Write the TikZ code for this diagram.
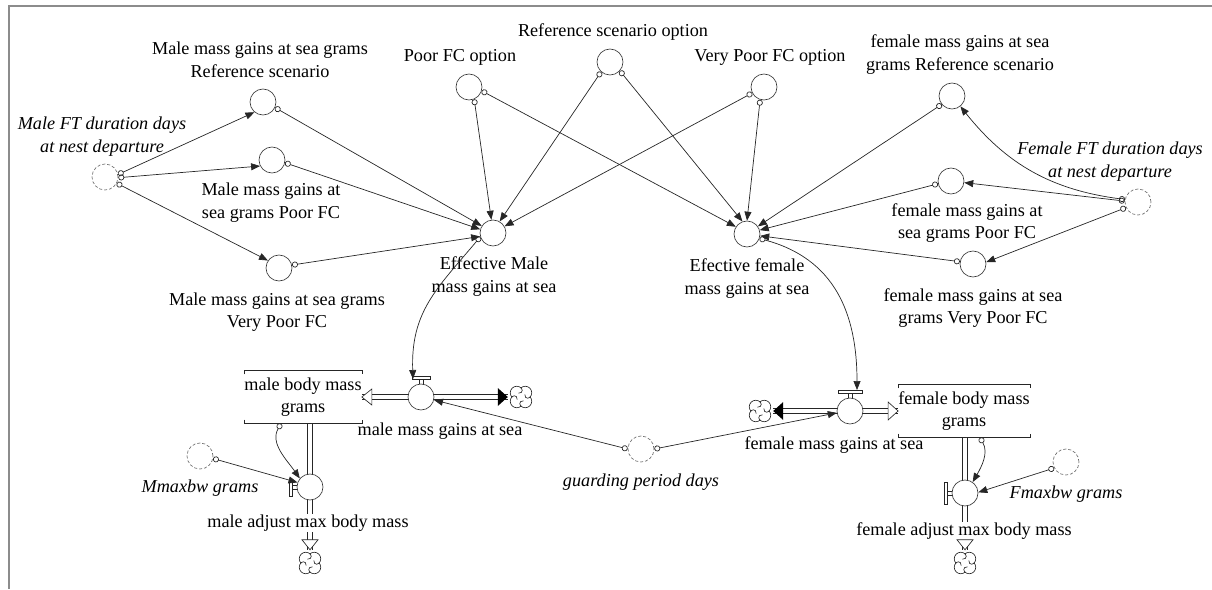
\documentclass[tikz,border=0pt]{standalone}
\usepackage{fontspec}
\setmainfont{Liberation Serif}
\usetikzlibrary{arrows.meta,calc}
\tikzset{
  cloudpic/.pic={
    \foreach \a in {0,90,180,270}{
      \draw[draw=black!85,line width=0.65pt] (\a+45:6) ++(\a-45:6.5) arc[start angle=\a-45,end angle=\a+135,radius=6.5];
      \draw[draw=black!85,line width=0.65pt] (\a+45:6) ++(\a-45:6.5) arc[start angle=\a-45,end angle=\a-195,radius=3];
    }
  }
}
\begin{document}
\begin{tikzpicture}[x=1pt,y=1pt,
  aux/.style={circle,draw=black!80,line width=0.65pt,minimum size=26pt,inner sep=0pt},
  shadow/.style={aux,draw=black!60,dash pattern=on 3pt off 2pt},
  valve/.style={aux,fill=white},
  lbl/.style={align=center,inner sep=0pt,font=\fontsize{18.2}{22.5}\selectfont,text=black},
  ilbl/.style={align=center,inner sep=0pt,font=\fontsize{18.2}{22.5}\selectfont\itshape,text=black},
  wlbl/.style={lbl,fill=white,inner sep=1pt},
  conn/.style={draw=black!85,line width=0.7pt,{Circle[open,length=6pt,width=6pt]}-{Triangle[length=9pt,width=7pt]}},
  pipe/.style={draw=black!85,line width=0.65pt,double=white,double distance=4pt},
  stockbox/.style={minimum width=68pt,minimum height=53pt,inner sep=0pt,align=center,font=\fontsize{18.2}{22.5}\selectfont},
  bracket/.style={draw=black!85,line width=0.65pt},
  cloudn/.style={circle,minimum size=26pt,inner sep=0pt},
  handle/.style={draw=black!85,line width=0.65pt,fill=white},
  frame/.style={draw=black!45,line width=1.6pt}
]
\useasboundingbox (0,0) rectangle (1212,-589);
\draw[frame] (1212,-6) -- (9,-6) -- (9,-589);

% ---------- auxiliaries ----------
\node[aux] (mref) at (263,-102) {};
\node[aux] (mpoor) at (272,-160) {};
\node[aux] (mvp) at (279,-268) {};
\node[shadow] (mft) at (105,-177) {};
\node[aux] (poorfc) at (469,-87) {};
\node[aux] (refopt) at (610,-62) {};
\node[aux] (vpfc) at (764,-87) {};
\node[aux] (effm) at (493,-233) {};
\node[aux] (efff) at (747,-234) {};
\node[aux] (fref) at (952,-96) {};
\node[aux] (fpoor) at (951,-181) {};
\node[aux] (fvp) at (973,-264) {};
\node[shadow] (fft) at (1138,-202) {};
\node[shadow] (mmax) at (200,-456) {};
\node[shadow] (fmax) at (1066,-462) {};
\node[shadow] (guard) at (641,-449) {};

% ---------- stocks and clouds ----------
\node[stockbox] (mstock) at (303,-397) {male body mass\\grams};
\node[stockbox] (fstock) at (964,-411) {female body mass\\grams};
\node[cloudn] (mcloud) at (521,-397) {};
\node[cloudn] (macloud) at (310,-563) {};
\node[cloudn] (fcloud) at (760,-411) {};
\node[cloudn] (facloud) at (965,-563) {};
\pic at (mcloud) {cloudpic};
\pic at (macloud) {cloudpic};
\pic at (fcloud) {cloudpic};
\pic at (facloud) {cloudpic};

\draw[bracket] ([yshift=-4pt]mstock.north west) -- (mstock.north west) -- (mstock.north east) -- ++(0,-4);
\draw[bracket] ([yshift=4pt]mstock.south west) -- (mstock.south west) -- (mstock.south east) -- ++(0,4);
\draw[bracket] ([yshift=-4pt]fstock.north west) -- (fstock.north west) -- (fstock.north east) -- ++(0,-4);
\draw[bracket] ([yshift=4pt]fstock.south west) -- (fstock.south west) -- (fstock.south east) -- ++(0,4);

% ---------- pipes ----------
\coordinate (mavalvepos) at (310,-487);
\coordinate (favalvepos) at (965,-493);
\draw[pipe] (mstock.east) -- (mcloud.west);
\draw[pipe] (fcloud.east) -- (fstock.west);
\draw[pipe] (mavalvepos |- mstock.south) -- (macloud.north);
\draw[pipe] (favalvepos |- fstock.south) -- (facloud.north);

% ---------- valves ----------
\node[valve] (mvalve) at (421,-397) {};
\node[valve] (fvalve) at (850,-411) {};
\node[valve] (mavalve) at (mavalvepos) {};
\node[valve] (favalve) at (favalvepos) {};

% valve handles
\draw[handle] ([xshift=-2pt]mvalve.north) -- ++(0,4) ([xshift=2pt]mvalve.north) -- ++(0,4);
\draw[handle] ([shift={(-9pt,4pt)}]mvalve.north) rectangle ++(18pt,3pt);
\draw[handle] ([xshift=-2pt]fvalve.north) -- ++(0,4) ([xshift=2pt]fvalve.north) -- ++(0,4);
\draw[handle] ([shift={(-12pt,4pt)}]fvalve.north) rectangle ++(24pt,3pt);
\draw[handle] ([yshift=2pt]mavalve.west) -- ++(-4,0) ([yshift=-2pt]mavalve.west) -- ++(-4,0);
\draw[handle] ([shift={(-7pt,-9pt)}]mavalve.west) rectangle ++(3pt,16pt);
\draw[handle] ([yshift=2pt]favalve.west) -- ++(-4,0) ([yshift=-2pt]favalve.west) -- ++(-4,0);
\draw[handle] ([shift={(-7pt,-11pt)}]favalve.west) rectangle ++(3pt,22pt);

% ---------- labels ----------
\node[lbl] (l-mref) at (260,-60) {Male mass gains at sea grams\\Reference scenario};
\node[lbl] (l-mpoor) at (271,-202.5) {Male mass gains at\\sea grams Poor FC};
\node[lbl] (l-mvp) at (277,-312) {Male mass gains at sea grams\\Very Poor FC};
\node[ilbl] (l-mft) at (102,-136.5) {Male FT duration days\\at nest departure};
\node[lbl] (l-poorfc) at (460,-57) {Poor FC option};
\node[lbl] (l-refopt) at (613,-32) {Reference scenario option};
\node[lbl] (l-vpfc) at (770,-57) {Very Poor FC option};
\node[lbl] (l-effm) at (494,-276.5) {Effective Male\\mass gains at sea};
\node[lbl] (l-efff) at (747,-278.5) {Efective female\\mass gains at sea};
\node[lbl] (l-fref) at (960,-54.5) {female mass gains at sea\\grams Reference scenario};
\node[lbl] (l-fpoor) at (967,-223) {female mass gains at\\sea grams Poor FC};
\node[lbl] (l-fvp) at (973,-308) {female mass gains at sea\\grams Very Poor FC};
\node[ilbl] (l-fft) at (1110,-161.5) {Female FT duration days\\at nest departure};
\node[lbl] (l-mvalve) at (440,-431) {male mass gains at sea};
\node[lbl] (l-fvalve) at (834,-445) {female mass gains at sea};
\node[ilbl] (l-guard) at (641,-482) {guarding period days};
\node[wlbl] (l-mav) at (308,-523) {male adjust max body mass};
\node[wlbl] (l-fav) at (964,-531) {female adjust max body mass};
\node[ilbl] (l-mmax) at (200,-488) {Mmaxbw grams};
\node[ilbl] (l-fmax) at (1066,-494) {Fmaxbw grams};

% ---------- flow arrowheads ----------
\draw[handle] (mstock.east) -- ++(10,8) -- ++(0,-16) -- cycle;
\draw[handle] (fstock.west) -- ++(-10,9) -- ++(0,-18) -- cycle;
\draw[handle] (macloud.north) -- ++(-8,10) -- ++(16,0) -- cycle;
\draw[handle] (facloud.north) -- ++(-8,10) -- ++(16,0) -- cycle;
\fill[black] (mcloud.west) -- ++(-10,9) -- ++(0,-18) -- cycle;
\fill[black] (fcloud.east) -- ++(10,9) -- ++(0,-18) -- cycle;

% ---------- connectors ----------
\draw[conn] (mft.11) -- (mref.230);
\draw[conn] (mft.357) -- (mpoor.207);
\draw[conn] (mft.332) -- (mvp.146);
\draw[conn] (mref.335) -- (effm.148);
\draw[conn] (mpoor.348) -- (effm.164);
\draw[conn] (mvp.13) -- (effm.195);
\draw[conn] (poorfc.293) -- (effm.97);
\draw[conn] (refopt.228) -- (effm.60);
\draw[conn] (vpfc.207) -- (effm.30);
\draw[conn] (poorfc.343) -- (efff.147);
\draw[conn] (refopt.318) -- (efff.110);
\draw[conn] (vpfc.253) -- (efff.90);
\draw[conn] (fref.219) -- (efff.35);
\draw[conn] (fpoor.192) -- (efff.17);
\draw[conn] (fvp.170) -- (efff.352);
\draw[conn] (fft.169) to[bend left=22] (fref.309);
\draw[conn] (fft.176) -- (fpoor.353);
\draw[conn] (fft.205) -- (fvp.8);
\coordinate (mvin) at (413,-379);
\coordinate (fvin) at (857,-390);
\draw[conn] (effm.197) to[out=230,in=92,looseness=1.1] (mvin);
\draw[conn] (efff.340) to[out=-15,in=90,looseness=1.1] (fvin);
\draw[conn] (guard.180) -- (mvalve.347);
\draw[conn] (guard.0) -- (fvalve.188);
\draw[conn] (mmax.349) -- (mavalve.160);
\draw[conn] ([xshift=-22pt]mstock.south) to[out=240,in=125] (mavalve.140);
\draw[conn] ([xshift=16pt]fstock.south) to[out=-60,in=60] (favalve.55);
\draw[conn] (fmax.207) -- (favalve.3);
\end{tikzpicture}
\end{document}
